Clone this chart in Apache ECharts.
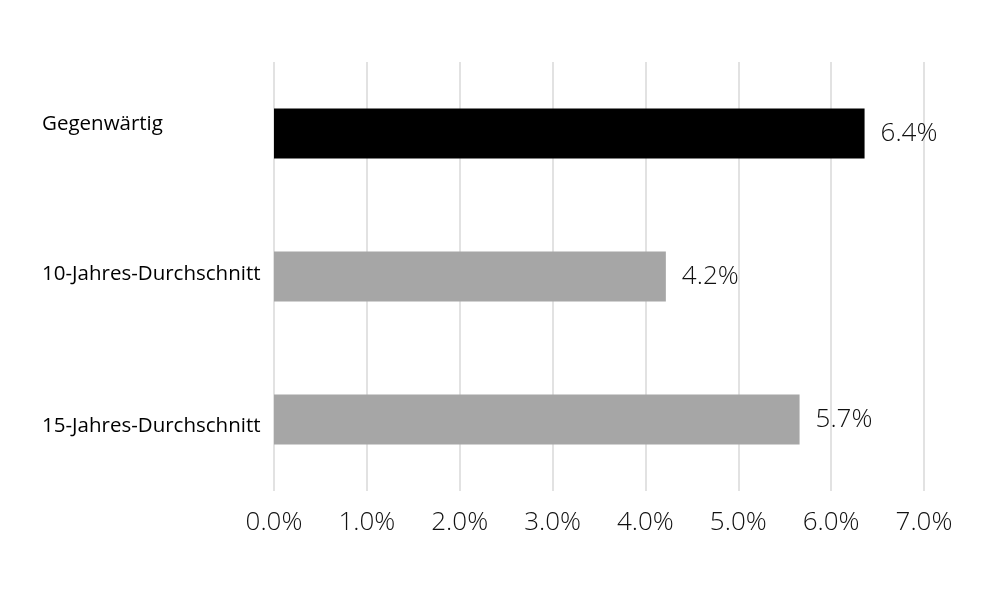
<!DOCTYPE html>
<html><head><meta charset="utf-8">
<script src="https://cdn.jsdelivr.net/npm/echarts@6/dist/echarts.min.js"></script>
<style>html,body{margin:0;padding:0;background:#fff}#c{width:1000px;height:600px}</style>
</head><body><div id="c"></div>
<script>
const categories = ['Gegenwärtig', '10-Jahres-Durchschnitt', '15-Jahres-Durchschnitt'];
const values = [6.36, 4.22, 5.66];
const barColors = ['#000000', '#a6a6a6', '#a6a6a6'];
const xTicks = [0, 1, 2, 3, 4, 5, 6, 7];

const chart = echarts.init(document.getElementById('c'));
const base = { fontFamily: 'Open Sans', fontSize: 20.5, fontWeight: 500, color: '#000' };
chart.setOption({
  animation: false,
  grid: { left: 274, right: 76, top: 62, bottom: 109, outerBoundsMode: 'none', containLabel: false },
  xAxis: {
    type: 'value', min: 0, max: 7, interval: 1,
    axisLine: { show: false }, axisTick: { show: false },
    splitLine: { lineStyle: { color: '#d9d9d9', width: 1.5 } },
    axisLabel: { formatter: v => v.toFixed(1) + '%', fontFamily: 'Open Sans', fontSize: 26, fontWeight: 300, color: '#111', margin: 19 }
  },
  yAxis: {
    type: 'category', inverse: true, data: categories,
    axisLine: { show: false }, axisTick: { show: false },
    axisLabel: {
      margin: 232, align: 'left',
      formatter: (v, i) => '{s' + i + '|' + v + '}',
      rich: {
        s0: Object.assign({ padding: [0, 0, 18, 0] }, base),
        s1: Object.assign({ padding: [0, 0, 4, 0] }, base),
        s2: Object.assign({ padding: [14, 0, 0, 0] }, base)
      }
    }
  },
  series: [{
    type: 'bar', barWidth: '35%',
    data: values.map((v, i) => ({ value: v, itemStyle: { color: barColors[i] } })),
    label: { show: true, position: 'right', distance: 16, formatter: p => p.value.toFixed(1) + '%',
      fontFamily: 'Open Sans', fontSize: 26, fontWeight: 300, color: '#111' }
  }]
});
</script></body></html>
